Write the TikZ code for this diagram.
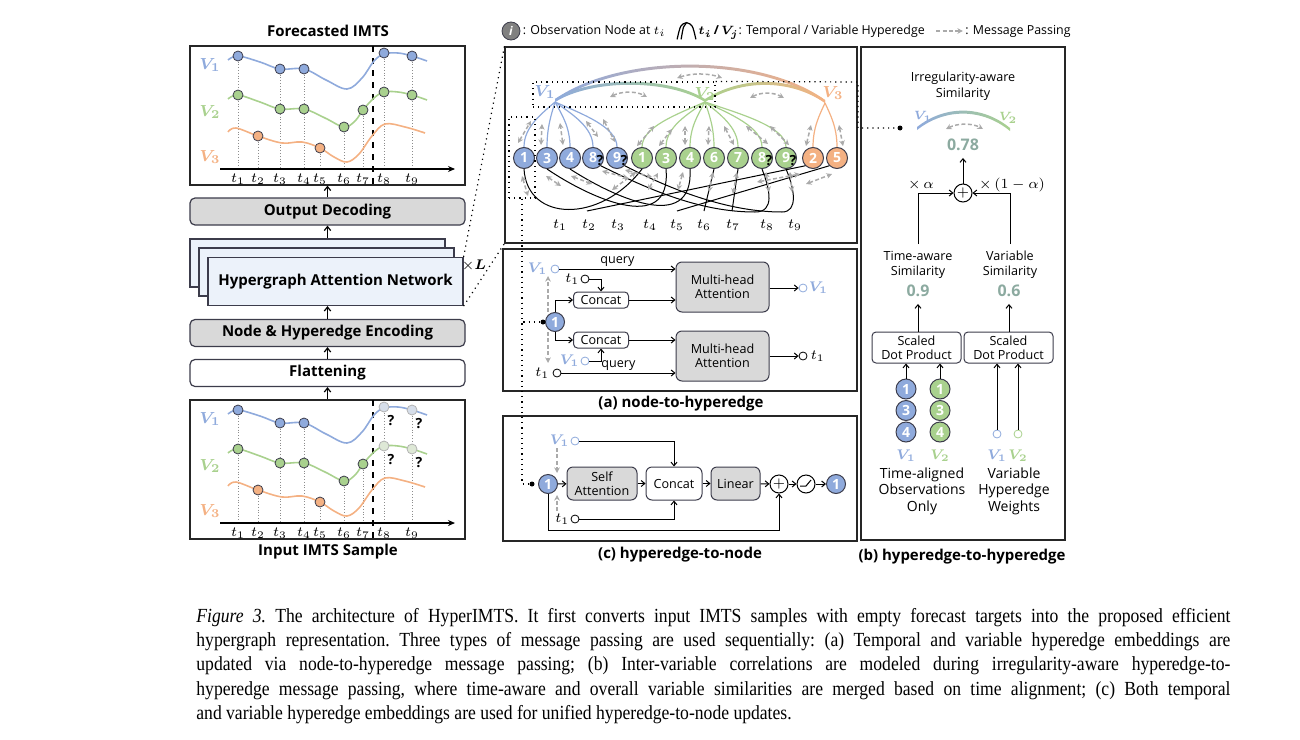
\documentclass[tikz,border=0pt]{standalone}
\usepackage{amsmath,bm}
\usepackage{fontspec}
\setmainfont{Open Sans}
\newfontfamily\capfont[FakeStretch=0.88]{Liberation Serif}
\usetikzlibrary{positioning,arrows.meta,calc}

\definecolor{cvone}{RGB}{143,170,220}
\definecolor{cvtwo}{RGB}{169,209,142}
\definecolor{cvthree}{RGB}{244,177,131}
\definecolor{boxgray}{RGB}{217,217,217}
\definecolor{boxline}{RGB}{60,60,75}
\definecolor{hgblue}{RGB}{236,242,250}
\definecolor{msggray}{RGB}{170,170,170}
\definecolor{simcol}{RGB}{140,170,160}
\definecolor{paleone}{RGB}{214,222,234}
\definecolor{paletwo}{RGB}{222,232,214}

\newcommand{\titlefnt}{\fontsize{7.5}{9}\selectfont\bfseries}
\newcommand{\notefnt}{\fontsize{6.3}{7.2}\selectfont}
\newcommand{\labfnt}{\fontsize{7}{8.3}\selectfont}
\newcommand{\vlab}[2]{\textcolor{#1}{$\bm{V_{#2}}$}}

\tikzset{
  panel/.style={draw=black!85, line width=0.6pt, inner sep=0pt},
  flowbox/.style={draw=boxline, line width=0.6pt, rounded corners=2.5pt, minimum width=137.5pt, minimum height=13.5pt, inner sep=0pt, font=\titlefnt},
  hgbox/.style={draw=boxline, fill=hgblue, line width=0.6pt, minimum width=127.5pt, minimum height=24pt, inner sep=0pt, font=\titlefnt},
  obsdot/.style={circle, draw=boxline, line width=0.4pt, minimum size=5pt, inner sep=0pt},
  guide/.style={black!45, densely dotted, line width=0.4pt},
  curve/.style={line width=0.8pt},
  vlabel/.style={font=\fontsize{8}{9}\selectfont, inner sep=0pt},
  obsnode/.style={circle, draw=boxline, line width=0.5pt, minimum size=10.5pt, inner sep=0pt, text=white, font=\fontsize{7}{8}\selectfont\bfseries},
  qmark/.style={font=\fontsize{7}{8}\selectfont\bfseries, inner sep=0pt},
  edgeline/.style={line width=0.6pt},
  timeline/.style={black, line width=0.5pt},
  msg/.style={msggray, dashed, dash pattern=on 2pt off 1.2pt, line width=0.75pt, <->, >={Stealth[length=2.8pt,width=2.8pt]}},
  msgone/.style={msggray, dashed, dash pattern=on 2pt off 1.2pt, line width=0.75pt, -{Stealth[length=2.8pt,width=2.8pt]}},
  arr/.style={-{Straight Barb[length=1.8pt,width=3pt]}, line width=0.5pt},
  uparr/.style={-{Straight Barb[length=2pt,width=3.2pt]}, line width=0.6pt},
  axisarr/.style={-{Stealth[length=3.5pt,width=3pt]}, line width=0.6pt},
  opbox/.style={draw=boxline, rounded corners=2pt, line width=0.5pt, font=\notefnt, align=center, inner sep=0pt},
  opcirc/.style={circle, draw=black, line width=0.5pt, fill=white, minimum size=9pt, inner sep=0pt, font=\fontsize{7}{8}\selectfont\bfseries},
  port/.style={circle, draw, line width=0.4pt, fill=white, minimum size=4pt, inner sep=0pt},
  vtag/.style={font=\fontsize{7}{8}\selectfont, inner sep=0.5pt},
  seldot/.style={circle, fill=black, minimum size=2.5pt, inner sep=0pt},
  legfnt/.style={font=\fontsize{6.2}{7.2}\selectfont, inner sep=0.5pt, text height=5pt, text depth=1.6pt},
  captext/.style={font=\capfont\fontsize{10}{12.1}\selectfont}
}

\begin{document}
\begin{tikzpicture}[x=0.5pt,y=-0.5pt]
\useasboundingbox (0,0) rectangle (1300,739);

% legend
\node[circle, fill=black!50, draw=boxline, line width=0.4pt, minimum size=9pt, inner sep=0pt, text=white, font=\fontsize{6}{6}\selectfont\bfseries\itshape] (leg-i) at (511,31) {i};
\node[legfnt, right=0.5pt of leg-i] (leg-obs) {: Observation Node at $t_i$};
\node[right=5pt of leg-obs, minimum width=9pt, minimum height=8pt, inner sep=0pt] (leg-he) {};
\draw[line width=0.6pt] (leg-he.south west) .. controls ($(leg-he.north)+(-6,2)$) .. (leg-he.north) .. controls ($(leg-he.north)+(6,2)$) .. (leg-he.south east);
\draw[line width=0.6pt] ($(leg-he.south west)+(4,0)$) .. controls ($(leg-he.north)+(-3,3)$) .. (leg-he.north);
\node[legfnt, right=0.5pt of leg-he] (leg-tv) {$\bm{t_i}$\,\textbf{/}\,$\bm{V_j}$: Temporal / Variable Hyperedge};
\node[right=5pt of leg-tv, minimum width=13pt, inner sep=0pt] (leg-mp) {};
\draw[msgone] (leg-mp.west) -- (leg-mp.east);
\node[legfnt, right=0.5pt of leg-mp] (leg-mptext) {: Message Passing};

% left column
\node[panel, minimum width=137.5pt, minimum height=69.5pt] (fcpanel) at (327.5,115.5) {};
\node[panel, minimum width=137.5pt, minimum height=69.5pt] (inpanel) at (327.5,469.5) {};
\node[font=\titlefnt] (fctitle) at (328,31) {Forecasted IMTS};
\node[font=\titlefnt] (intitle) at (328,552) {Input IMTS Sample};

\foreach \dy in {0,354}{
  \begin{scope}[shift={(0,\dy)}]
    \foreach \tx/\ty in {238/56,258/136,280/69,304/69,320/148,344/127,363/110,384/53,412/56}
      \draw[guide] (\tx,\ty) -- (\tx,169);
    \draw[axisarr] (220,169) -- (455,169);
    \foreach \tx [count=\k] in {238,258,280,304,320,344,363,384,412}
      \node[font=\labfnt] (tl-\dy-\k) at (\tx,179) {$t_{\k}$};
    \draw[dashed, line width=0.6pt] (373,46) -- (373,185);
    \draw[curve, cvone] plot[smooth, tension=0.6] coordinates {(228,60) (238,56) (260,62) (280,69) (304,69) (326,80) (347,89) (362,78) (374,61) (384,54) (398,53) (412,56) (427,61)};
    \draw[curve, cvtwo] plot[smooth, tension=0.6] coordinates {(228,99) (238,95) (260,102) (280,109) (304,109) (325,118) (344,127) (355,121) (363,110) (374,98) (384,92) (398,92) (412,95) (427,100)};
    \draw[curve, cvthree] plot[smooth, tension=0.6] coordinates {(228,132) (236,128) (258,136) (282,143) (302,142) (320,148) (334,157) (347,162) (359,154) (372,136) (385,124) (405,127) (425,133)};
    \node[vlabel] (vl-\dy-1) at (210,65) {\vlab{cvone}{1}};
    \node[vlabel] (vl-\dy-2) at (210,112) {\vlab{cvtwo}{2}};
    \node[vlabel] (vl-\dy-3) at (210,157) {\vlab{cvthree}{3}};
    \foreach \tx/\ty [count=\k] in {238/56,280/69,304/69}
      \node[obsdot, fill=cvone] (da-\dy-\k) at (\tx,\ty) {};
    \foreach \tx/\ty [count=\k] in {238/95,280/109,304/109,344/127,363/110}
      \node[obsdot, fill=cvtwo] (db-\dy-\k) at (\tx,\ty) {};
    \foreach \tx/\ty [count=\k] in {258/136,320/148}
      \node[obsdot, fill=cvthree] (dc-\dy-\k) at (\tx,\ty) {};
  \end{scope}
}
% forecast targets
\foreach \tx/\ty [count=\k] in {384/53,412/56}
  \node[obsdot, fill=cvone] (fa\k) at (\tx,\ty) {};
\foreach \tx/\ty [count=\k] in {384/92,412/95}
  \node[obsdot, fill=cvtwo] (fb\k) at (\tx,\ty) {};
\foreach \tx/\ty [count=\k] in {384/407,412/410}{
  \node[obsdot, fill=paleone, draw=black!30] (qa\k) at (\tx,\ty) {};
  \node[qmark] at ($(qa\k)+(7,14)$) {?};
}
\foreach \tx/\ty [count=\k] in {384/446,412/449}{
  \node[obsdot, fill=paletwo, draw=black!30] (qb\k) at (\tx,\ty) {};
  \node[qmark] at ($(qb\k)+(7,14)$) {?};
}

\node[flowbox, fill=boxgray] (outdec) at (327.5,211.5) {Output Decoding};
\node[hgbox] (hg1) at (317.5,263) {};
\node[hgbox] (hg2) at (326.5,272) {};
\node[hgbox] (hg3) at (335.5,281.5) {Hypergraph Attention Network};
\node[font=\labfnt, inner sep=0pt] (timesl) at (474,266) {$\times\bm{L}$};
\node[flowbox, fill=boxgray] (enc) at (327.5,333) {Node \& Hyperedge Encoding};
\node[flowbox, fill=white] (flat) at (327.5,373) {Flattening};

\draw[uparr] (inpanel.north) -- (flat.south);
\draw[uparr] (flat.north) -- (enc.south);
\draw[uparr] (enc.north) -- (enc.north |- hg3.south);
\draw[uparr] (outdec.south |- hg1.north) -- (outdec.south);
\draw[uparr] (outdec.north) -- (fcpanel.south);

% hypergraph panel
\node[panel, minimum width=176pt, minimum height=98pt] (hgpanel) at (681,145) {};
\draw[dotted, line width=0.6pt] (hg3.north east) -- (hgpanel.north west);
\draw[dotted, line width=0.6pt] (hg3.south east) -- (hgpanel.south west);

\coordinate (eV1) at (555,102);
\coordinate (eV2) at (705,102);
\coordinate (eV3) at (825,103);
\shade[left color=cvone, right color=cvthree] (eV1) .. controls (622,56) and (760,56) .. (eV3) -- ++(0,-3) .. controls (760,53) and (622,53) .. ($(eV1)+(0,-3)$) -- cycle;
\shade[left color=cvone, right color=cvtwo] (eV1) .. controls (592,79) and (668,79) .. (eV2) -- ++(0,-3) .. controls (668,76) and (592,76) .. ($(eV1)+(0,-3)$) -- cycle;
\shade[left color=cvtwo, right color=cvthree] (eV2) .. controls (742,79) and (790,79) .. (eV3) -- ++(0,-3) .. controls (790,76) and (742,76) .. ($(eV2)+(0,-3)$) -- cycle;

\foreach \nx/\lab [count=\k] in {524/1,547/3,570/4,593/8,617/9}
  \node[obsnode, fill=cvone] (hA\k) at (\nx,158) {\lab};
\foreach \nx/\lab [count=\k] in {642/1,666/3,690/4,714/6,738/7,762/8,786/9}
  \node[obsnode, fill=cvtwo] (hB\k) at (\nx,158) {\lab};
\foreach \nx/\lab [count=\k] in {813/2,837/5}
  \node[obsnode, fill=cvthree] (hC\k) at (\nx,158) {\lab};
\foreach \n in {hA4,hA5,hB6,hB7}
  \node[qmark] at ($(\n)+(7,3)$) {?};

\foreach \k in {1,...,5}
  \draw[edgeline, cvone] (eV1) .. controls ($(eV1)!0.45!(hA\k.north)+(0,-8)$) and ($(hA\k.north)+(0,-20)$) .. (hA\k.north);
\foreach \k in {1,...,7}
  \draw[edgeline, cvtwo] (eV2) .. controls ($(eV2)!0.45!(hB\k.north)+(0,-8)$) and ($(hB\k.north)+(0,-20)$) .. (hB\k.north);
\foreach \k in {1,2}
  \draw[edgeline, cvthree] (eV3) .. controls ($(eV3)!0.45!(hC\k.north)+(0,-8)$) and ($(hC\k.north)+(0,-20)$) .. (hC\k.north);

\node[vlabel] (hv1) at (545,92) {\vlab{cvone}{1}};
\node[vlabel] (hv2) at (705,94) {\vlab{cvtwo}{2}};
\node[vlabel] (hv3) at (833,93) {\vlab{cvthree}{3}};

% time hyperedges
\coordinate (te2) at (587,211);
\coordinate (te5) at (677,211);
\coordinate (te6) at (704,211);
\coordinate (te7) at (732,211);
\draw[timeline] (hA1.south) .. controls (527,222) and (600,224) .. (hB1.south);
\draw[timeline] (hA2.south) .. controls (585,195) and (672,238) .. (hB2.south);
\draw[timeline] (hA3.south) .. controls (610,195) and (694,236) .. (hB3.south);
\draw[timeline] (hA4.south east) .. controls (650,190) and (700,212) .. (755,212) .. controls (775,212) and (770,190) .. (hB6.south);
\draw[timeline] (hA5.south east) .. controls (672,190) and (728,212) .. (782,212) .. controls (798,212) and (795,190) .. (hB7.south);
\draw[timeline] (hC1.south west) -- (te2);
\draw[timeline] (hC2.south west) -- (te5);
\draw[timeline] (hB4.south) -- (te6);
\draw[timeline] (hB5.south) -- (te7);
\foreach \tx [count=\k] in {560,589,618,650,677,704,733,767,795}
  \node[font=\labfnt] (ht\k) at (\tx,225) {$t_{\k}$};

% message passing
\foreach \xa/\ya/\xb/\yb in {518/143/531/121, 541/145/542/124, 563/145/560/123, 586/121/598/137, 603/119/615/142,
  637/146/654/126, 659/146/672/129, 685/145/685/126, 708/145/709/126, 724/126/734/145, 746/126/768/144, 770/126/789/145,
  806/146/811/125, 839/125/843/146,
  522/176/528/196, 546/176/561/186, 571/176/592/184, 602/171/628/178, 625/170/652/177,
  612/190/636/172, 648/190/658/173, 683/172/678/190, 713/172/709/192, 737/172/733/194,
  766/172/769/192, 790/172/792/192, 757/182/800/174, 806/184/832/174}
  \draw[msg] (\xa,\ya) -- (\xb,\yb);
\draw[msg] (610,97) .. controls (622,91) and (636,91) .. (647,97);
\draw[msg] (750,98) .. controls (761,92) and (773,92) .. (784,98);
\draw[msg] (677,78) .. controls (692,73) and (708,73) .. (722,78);

% selections
\node[draw, dotted, line width=0.6pt, minimum width=91pt, minimum height=12.5pt, inner sep=0pt] (vsel) at (624,94.5) {};
\node[draw, dotted, line width=0.6pt, minimum width=13pt, minimum height=40.5pt, inner sep=0pt] (nsel) at (522,157.5) {};

% (a) node-to-hyperedge
\node[panel, minimum width=177pt, minimum height=71pt] (apanel) at (680,320) {};
\node[font=\titlefnt] (atitle) at (681,404) {(a) node-to-hyperedge};
\node[obsnode, fill=cvone, minimum size=9.5pt] (a1) at (555,322) {1};
\node[opbox, fill=boxgray, minimum width=46.5pt, minimum height=25pt, rounded corners=3pt] (mha1) at (722.5,287) {Multi-head\\Attention};
\node[opbox, fill=boxgray, minimum width=46.5pt, minimum height=25pt, rounded corners=3pt] (mha2) at (722.5,356) {Multi-head\\Attention};
\node[opbox, fill=white, minimum width=27.5pt, minimum height=8pt] (cc1) at (601,300) {Concat};
\node[opbox, fill=white, minimum width=27.5pt, minimum height=8pt] (cc2) at (601,340) {Concat};
\node[port, draw=cvone] (av1) at (555,269) {};
\node[vtag, left=1pt of av1] (av1lab) {\vlab{cvone}{1}};
\node[port, draw=black] (at1) at (585,279) {};
\node[vtag, left=0pt of at1] (at1lab) {$t_1$};
\node[port, draw=cvone] (av2) at (585,361) {};
\node[vtag, left=0pt of av2] (av2lab) {\vlab{cvone}{1}};
\node[port, draw=black] (at2) at (557,373) {};
\node[vtag, left=1pt of at2] (at2lab) {$t_1$};
\node[port, draw=cvone] (aout1) at (803,288) {};
\node[vtag, right=0pt of aout1] (aout1lab) {\vlab{cvone}{1}};
\node[port, draw=black] (aout2) at (803,356) {};
\node[vtag, right=1pt of aout2] (aout2lab) {$t_1$};
\draw[arr] (av1) -- node[above, font=\notefnt, inner sep=1pt] {query} (av1 -| mha1.west);
\draw[arr] (at1) -| (cc1.north);
\draw[arr] (a1.north) |- (cc1.west);
\draw[arr] (cc1.east) -- (cc1.east -| mha1.west);
\draw[arr] (mha1.east |- aout1) -- (aout1);
\draw[arr] (a1.south) |- (cc2.west);
\draw[arr] (av2) -| (cc2.south);
\draw[arr] (at2) -- node[above, font=\notefnt, inner sep=1pt] {query} (at2 -| mha2.west);
\draw[arr] (cc2.east) -- (cc2.east -| mha2.west);
\draw[arr] (mha2.east |- aout2) -- (aout2);
\draw[msgone] ([xshift=-3.5pt]a1.north) -- ++(0,-36);
\draw[msgone] ([xshift=-3.5pt]a1.south) -- ++(0,31);

% (c) hyperedge-to-node
\node[panel, minimum width=177pt, minimum height=62.5pt] (cpanel) at (680,478.5) {};
\node[font=\titlefnt] (ctitle) at (680,555) {(c) hyperedge-to-node};
\node[obsnode, fill=cvone, minimum size=9.5pt] (c1) at (548,484) {1};
\node[opbox, fill=boxgray, minimum width=35pt, minimum height=16.5pt, rounded corners=3pt] (csa) at (602,483.5) {Self\\Attention};
\node[opbox, fill=white, minimum width=28pt, minimum height=16.5pt, rounded corners=3pt] (ccat) at (674,483.5) {Concat};
\node[opbox, fill=boxgray, minimum width=24.5pt, minimum height=16.5pt, rounded corners=3pt] (clin) at (735.5,483.5) {Linear};
\node[opcirc] (cplus) at (779,484) {$+$};
\node[opcirc] (crelu) at (806,484) {};
\draw[line width=0.5pt] ($(crelu.center)+(-6,2)$) -- ($(crelu.center)+(0,2)$) -- ($(crelu.center)+(5,-4)$);
\node[obsnode, fill=cvone, minimum size=9.5pt] (cout) at (836,484) {1};
\draw[arr] (c1) -- (csa);
\draw[arr] (csa) -- (ccat);
\draw[arr] (ccat) -- (clin);
\draw[arr] (clin) -- (cplus);
\draw[arr] (cplus) -- (crelu);
\draw[arr] (crelu) -- (cout);
\node[port, draw=cvone] (cv1) at (575,441) {};
\node[vtag, left=0pt of cv1] (cv1lab) {\vlab{cvone}{1}};
\node[port, draw=black] (ct1) at (575,519) {};
\node[vtag, left=0pt of ct1] (ct1lab) {$t_1$};
\draw[arr] (cv1) -| (ccat.north);
\draw[arr] (ct1) -| (ccat.south);
\draw[arr] (c1.south) -- ++(0,36) -| (cplus.south);
\draw[msgone] (557,448) -- (557,473);
\draw[msgone] (557,511) -- (557,495);

% dotted links from selections
\node[seldot] (adot) at (543,322) {};
\node[seldot] (cdot) at (532,484) {};
\draw[dotted, line width=0.6pt] (nsel.south) |- (adot);
\draw[dotted, line width=0.6pt] (nsel.south) |- (cdot);

% (b) hyperedge-to-hyperedge
\node[panel, minimum width=102pt, minimum height=246.5pt] (bpanel) at (963,293.5) {};
\node[font=\titlefnt] (btitle) at (962,557) {(b) hyperedge-to-hyperedge};
\node[seldot] (simdot) at (900,128) {};
\draw[dotted, line width=0.6pt] (vsel.north east) -- (858,82) |- (simdot);
\node[font=\fontsize{6.3}{8}\selectfont, align=center] (irrtitle) at (963,86) {Irregularity-aware\\Similarity};
\shade[left color=cvone, right color=cvtwo] (917,130) .. controls (945,108) and (982,108) .. (1010,131) -- (1010,128) .. controls (982,105) and (945,105) .. (917,127) -- cycle;
\node[font=\fontsize{6}{7}\selectfont, inner sep=0pt] (bv1) at (923,117) {\vlab{cvone}{1}};
\node[font=\fontsize{6}{7}\selectfont, inner sep=0pt] (bv2) at (1008,118) {\vlab{cvtwo}{2}};
\draw[msg] (946,129) .. controls (958,123) and (972,123) .. (983,129);
\node[font=\fontsize{8}{9}\selectfont\bfseries, text=simcol] (sim078) at (963,145) {0.78};
\node[opcirc] (bplus) at (963,193) {$+$};
\draw[arr] (bplus.north) -- (sim078.south);
\node[font=\fontsize{6.3}{7.6}\selectfont, align=center] (tas) at (918,265) {Time-aware\\Similarity};
\node[font=\fontsize{6.3}{7.6}\selectfont, align=center] (vsim) at (1010,265) {Variable\\Similarity};
\node[font=\fontsize{8}{9}\selectfont\bfseries, text=simcol] (sim09) at (918,291) {0.9};
\node[font=\fontsize{8}{9}\selectfont\bfseries, text=simcol] (sim06) at (1009,291) {0.6};
\draw[arr] (tas.north) |- (bplus.west);
\draw[arr] (vsim.north) |- (bplus.east);
\node[font=\labfnt] (alab) at (921,185) {$\times\,\alpha$};
\node[font=\labfnt] (blab) at (1012,185) {$\times\,(1-\alpha)$};
\node[opbox, fill=white, minimum width=44.5pt, minimum height=15.5pt, font=\fontsize{6.3}{6.8}\selectfont] (sdp1) at (916.5,347.5) {Scaled\\Dot Product};
\node[opbox, fill=white, minimum width=44.5pt, minimum height=15.5pt, font=\fontsize{6.3}{6.8}\selectfont] (sdp2) at (1008.5,347.5) {Scaled\\Dot Product};
\draw[arr] (sim09.south |- sdp1.north) -- (sim09.south);
\draw[arr] (sim06.south |- sdp2.north) -- (sim06.south);
\foreach \ty/\lab [count=\k] in {389/1,410.5/3,432/4}{
  \node[obsnode, fill=cvone, minimum size=10pt] (sa\k) at (906,\ty) {\lab};
  \node[obsnode, fill=cvtwo, minimum size=10pt] (sb\k) at (940,\ty) {\lab};
}
\draw[arr] (sa1.north) -- (sa1.north |- sdp1.south);
\draw[arr] (sb1.north) -- (sb1.north |- sdp1.south);
\node[port, draw=cvone] (pv1) at (997,434) {};
\node[port, draw=cvtwo] (pv2) at (1018,434) {};
\draw[arr] (pv1.north) -- (pv1.north |- sdp2.south);
\draw[arr] (pv2.north) -- (pv2.north |- sdp2.south);
\node[vtag] (bl1) at (906,456) {\vlab{cvone}{1}};
\node[vtag] (bl2) at (940,456) {\vlab{cvtwo}{2}};
\node[vtag] (bl3) at (997,456) {\vlab{cvone}{1}};
\node[vtag] (bl4) at (1018,456) {\vlab{cvtwo}{2}};
\node[font=\fontsize{7}{8.3}\selectfont, align=center] (tao) at (922,491) {Time-aligned\\Observations\\Only};
\node[font=\fontsize{7}{8.3}\selectfont, align=center] (vhw) at (1014,491) {Variable\\Hyperedge\\Weights};

% caption
\node[captext, anchor=north west, inner sep=0pt, text width=517pt, align=justify] (caption) at (196,608) {\frenchspacing\hyphenpenalty=10000\textit{Figure 3.} The architecture of HyperIMTS. It first converts input IMTS samples with empty forecast targets into the proposed efficient\linebreak hypergraph representation. Three types of message passing are used sequentially: (a) Temporal and variable hyperedge embeddings are\linebreak updated via node-to-hyperedge message passing; (b) Inter-variable correlations are modeled during irregularity-aware hyperedge-to-\linebreak hyperedge message passing, where time-aware and overall variable similarities are merged based on time alignment; (c) Both temporal\linebreak and variable hyperedge embeddings are used for unified hyperedge-to-node updates.};
\end{tikzpicture}
\end{document}
